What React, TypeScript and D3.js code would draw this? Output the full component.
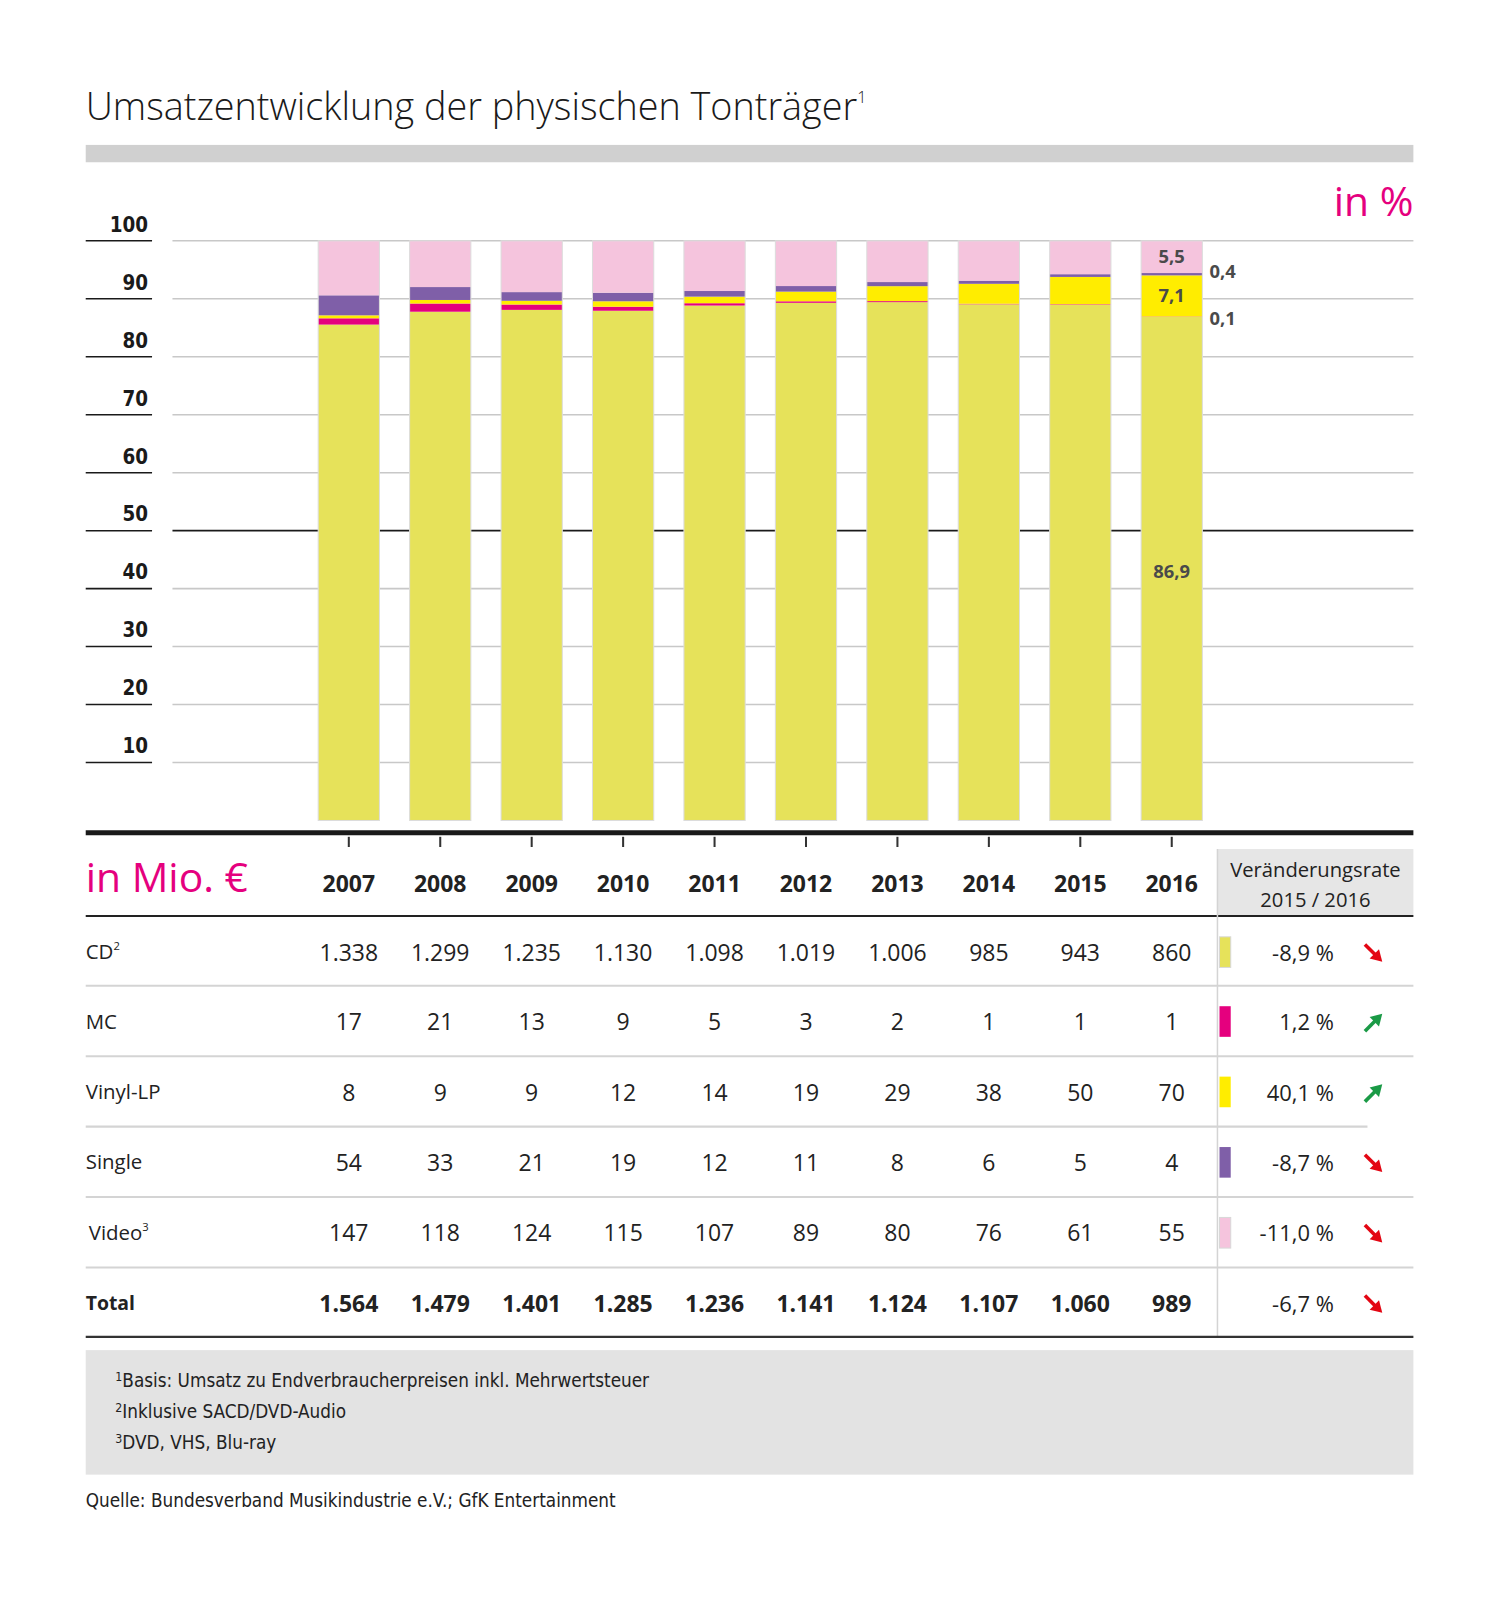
import React from "react";
import * as d3 from "d3";

const years = ["2007", "2008", "2009", "2010", "2011", "2012", "2013", "2014", "2015", "2016"];
const cd = [1338, 1299, 1235, 1130, 1098, 1019, 1006, 985, 943, 860];
const mc = [17, 21, 13, 9, 5, 3, 2, 1, 1, 1];
const vinyl = [8, 9, 9, 12, 14, 19, 29, 38, 50, 70];
const single = [54, 33, 21, 19, 12, 11, 8, 6, 5, 4];
const video = [147, 118, 124, 115, 107, 89, 80, 76, 61, 55];
const total = [1564, 1479, 1401, 1285, 1236, 1141, 1124, 1107, 1060, 989];
const seriesKeys = ["cd", "mc", "vinyl", "single", "video"];
const seriesLabels = ["CD", "MC", "Vinyl-LP", "Single", "Video"];
const seriesSup = ["2", "", "", "", "3"];
const seriesColors = ["#e6e25a", "#e5007e", "#ffed00", "#7f5fa8", "#f5c4dd"];
const changeRates = ["-8,9 %", "1,2 %", "40,1 %", "-8,7 %", "-11,0 %"];
const changeUp = [false, true, true, false, false];
const totalChange = "-6,7 %";
const yTicks = [10, 20, 30, 40, 50, 60, 70, 80, 90, 100];
const labels2016 = ["86,9", "0,1", "7,1", "0,4", "5,5"];
const footnotes = [
  ["1", "Basis: Umsatz zu Endverbraucherpreisen inkl. Mehrwertsteuer"],
  ["2", "Inklusive SACD/DVD-Audio"],
  ["3", "DVD, VHS, Blu-ray"],
];

const SANS = "'Open Sans', 'Noto Sans', sans-serif";
const NARROW = "'Liberation Sans Narrow', 'DejaVu Sans Condensed', 'Liberation Sans', sans-serif";
const MAGENTA = "#e5007e";
const K = 1.0205;

function Arrow({ x, y, up }: { x: number; y: number; up: boolean }) {
  const color = up ? "#1a9a46" : "#e30613";
  const x0 = x - 8.5, x1 = x + 8.5;
  const y0 = up ? y + 8.5 : y - 8.5;
  const y1 = up ? y - 8.5 : y + 8.5;
  const dx = x1 - x0, dy = y1 - y0;
  const len = Math.sqrt(dx * dx + dy * dy);
  const ux = dx / len, uy = dy / len;
  const hl = 11, hw = 6.5;
  const bx = x1 - ux * hl, by = y1 - uy * hl;
  const p1 = [bx - uy * hw, by + ux * hw];
  const p2 = [bx + uy * hw, by - ux * hw];
  return (
    <g>
      <line x1={x0} y1={y0} x2={bx + ux} y2={by + uy} stroke={color} strokeWidth={3.5} />
      <polygon points={`${x1},${y1} ${p1[0]},${p1[1]} ${p2[0]},${p2[1]}`} fill={color} />
    </g>
  );
}

export default function App() {
  const data = years.map((yr, i) => ({
    year: yr,
    cd: cd[i],
    mc: mc[i],
    vinyl: vinyl[i],
    single: single[i],
    video: video[i],
  }));
  const stacked = d3.stack<any>().keys(seriesKeys).offset(d3.stackOffsetExpand)(data);

  const x = d3.scaleBand<string>().domain(years).range([297, 1193]).paddingInner(0.33).paddingOuter(0.165);
  const y = d3.scaleLinear().domain([0, 1]).range([804, 236]);
  const yPct = (v: number) => y(v / 100);

  const rowsY = [933, 1001, 1070, 1139, 1208];
  const totalY = 1277;
  const sepY = [966, 1035, 1104, 1173, 1242];
  const valueCols = [cd, mc, vinyl, single, video];
  const cx = (yr: string) => (x(yr) as number) + x.bandwidth() / 2;
  const last = years[years.length - 1];
  const lastX = x(last) as number;
  const fmt = (v: number) => d3.format(",")(v).replace(/,/g, ".");

  return (
    <svg width={1500} height={1600} style={{ position: "absolute", left: 0, top: 0, background: "#fff" }}>
      <g transform={`scale(${K})`}>
        {/* Title */}
        <text x={84} y={118} fontFamily={SANS} fontSize={37} fontWeight={300} fill="#1a1a1a">
          Umsatzentwicklung der physischen Tonträger
          <tspan fontSize={16} dy={-17}>1</tspan>
        </text>
        <rect x={84} y={142} width={1301} height={17} fill="#d0d0d0" />
        <text x={1385} y={212} textAnchor="end" fontFamily={SANS} fontSize={40} fill={MAGENTA}>
          in %
        </text>

        {/* Y axis labels and gridlines */}
        {yTicks.map((t) => (
          <g key={t}>
            <line x1={84} x2={149} y1={yPct(t)} y2={yPct(t)} stroke="#1a1a1a" strokeWidth={1.5} />
            <text x={145} y={yPct(t) - 9} textAnchor="end" fontFamily={NARROW} fontWeight={700} fontSize={20} fill="#1a1a1a">
              {t}
            </text>
            <line
              x1={169}
              x2={1385}
              y1={yPct(t)}
              y2={yPct(t)}
              stroke={t === 50 ? "#1a1a1a" : "#c8c8c8"}
              strokeWidth={t === 50 ? 1.6 : 1.5}
            />
          </g>
        ))}

        {/* Bars */}
        {stacked.map((s, si) => (
          <g key={s.key}>
            {s.map((d, i) => (
              <rect
                key={i}
                x={x(years[i])}
                width={x.bandwidth()}
                y={y(d[1])}
                height={Math.max(0, y(d[0]) - y(d[1]))}
                fill={si === 1 && i === years.length - 1 ? "#f08a3c" : seriesColors[si]}
              />
            ))}
          </g>
        ))}
        {years.map((yr) => (
          <rect key={yr} x={x(yr)} y={236} width={x.bandwidth()} height={568} fill="none" stroke="#dcdcdc" strokeWidth={1} />
        ))}

        {/* 2016 labels */}
        {stacked.map((s, si) => {
          const d = s[years.length - 1];
          const mid = (y(d[0]) + y(d[1])) / 2;
          if (si === 0) {
            return (
              <text key={si} x={cx(last)} y={566} textAnchor="middle" fontFamily={SANS} fontWeight={700} fontSize={18} fill="#4a4a4a">
                {labels2016[si]}
              </text>
            );
          }
          if (si === 2 || si === 4) {
            return (
              <text key={si} x={cx(last)} y={mid + 6} textAnchor="middle" fontFamily={SANS} fontWeight={700} fontSize={18} fill="#4a4a4a">
                {labels2016[si]}
              </text>
            );
          }
          return (
            <text
              key={si}
              x={lastX + x.bandwidth() + 7}
              y={si === 1 ? mid + 8 : mid + 4}
              fontFamily={SANS}
              fontWeight={700}
              fontSize={18}
              fill="#4a4a4a"
            >
              {labels2016[si]}
            </text>
          );
        })}

        {/* Axis */}
        <line x1={84} x2={1385} y1={816} y2={816} stroke="#1a1a1a" strokeWidth={5} />
        {years.map((yr) => (
          <line key={yr} x1={cx(yr)} x2={cx(yr)} y1={820} y2={830} stroke="#333" strokeWidth={2} />
        ))}

        {/* Table header */}
        <text x={84} y={874} fontFamily={SANS} fontSize={40} fill={MAGENTA}>
          in Mio. €
        </text>
        {years.map((yr) => (
          <text key={yr} x={cx(yr)} y={874} textAnchor="middle" fontFamily={SANS} fontWeight={700} fontSize={22.5} fill="#222">
            {yr}
          </text>
        ))}
        <rect x={1193} y={832} width={192} height={65} fill="#e6e6e6" />
        <text x={1289} y={859} textAnchor="middle" fontFamily={SANS} fontSize={19.8} fill="#222">
          Veränderungsrate
        </text>
        <text x={1289} y={889} textAnchor="middle" fontFamily={SANS} fontSize={19.8} fill="#222">
          2015 / 2016
        </text>
        <line x1={84} x2={1385} y1={897.5} y2={897.5} stroke="#222" strokeWidth={2} />
        <line x1={1193} x2={1193} y1={832} y2={1310} stroke="#d4d4d4" strokeWidth={1.5} />

        {/* Rows */}
        {seriesLabels.map((lab, ri) => (
          <g key={lab}>
            <text x={ri === 4 ? 87 : 84} y={rowsY[ri] + 7} fontFamily={SANS} fontSize={20} fill="#222">
              {lab}
              {seriesSup[ri] && (
                <tspan fontSize={11} dy={-9}>
                  {seriesSup[ri]}
                </tspan>
              )}
            </text>
            {valueCols[ri].map((v, i) => (
              <text key={i} x={cx(years[i])} y={rowsY[ri] + 8.5} textAnchor="middle" fontFamily={SANS} fontSize={22.5} fill="#222">
                {fmt(v)}
              </text>
            ))}
            <rect
              x={1195}
              y={rowsY[ri] - 15}
              width={11}
              height={30}
              fill={seriesColors[ri]}
              stroke={ri === 0 || ri === 4 ? "#d8d8d8" : "none"}
              strokeWidth={1}
            />
            <text x={1307} y={rowsY[ri] + 8.5} textAnchor="end" fontFamily={SANS} fontSize={21.5} fill="#222">
              {changeRates[ri]}
            </text>
            <Arrow x={1346} y={rowsY[ri] + 1} up={changeUp[ri]} />
            <line x1={84} x2={ri === 2 ? 1340 : 1385} y1={sepY[ri]} y2={sepY[ri]} stroke="#d4d4d4" strokeWidth={2} />
          </g>
        ))}
        <text x={84} y={totalY + 7} fontFamily={SANS} fontWeight={700} fontSize={19} fill="#222">
          Total
        </text>
        {total.map((v, i) => (
          <text key={i} x={cx(years[i])} y={totalY + 8.5} textAnchor="middle" fontFamily={SANS} fontWeight={700} fontSize={22.5} fill="#222">
            {fmt(v)}
          </text>
        ))}
        <text x={1307} y={totalY + 8.5} textAnchor="end" fontFamily={SANS} fontSize={21.5} fill="#222">
          {totalChange}
        </text>
        <Arrow x={1346} y={totalY + 1} up={false} />
        <line x1={84} x2={1385} y1={1310} y2={1310} stroke="#333" strokeWidth={2} />

        {/* Footnotes */}
        <rect x={84} y={1323} width={1301} height={122} fill="#e3e3e3" />
        {footnotes.map((f, i) => (
          <text key={i} x={113} y={1359 + i * 30.5} fontFamily={NARROW} fontSize={18.4} fill="#222">
            <tspan fontSize={12} dy={-6}>{f[0]}</tspan>
            <tspan dy={6}>{f[1]}</tspan>
          </text>
        ))}
        <text x={84} y={1477} fontFamily={NARROW} fontSize={18.4} fill="#222">
          Quelle: Bundesverband Musikindustrie e.V.; GfK Entertainment
        </text>
      </g>
    </svg>
  );
}
